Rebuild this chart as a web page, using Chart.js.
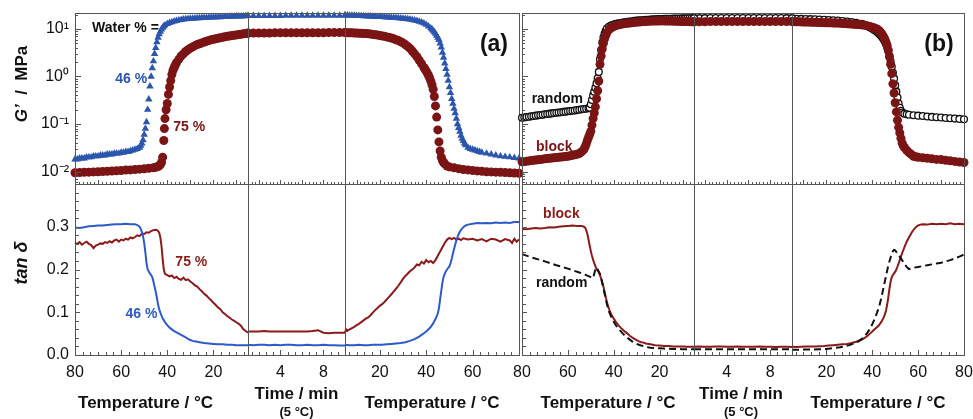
<!DOCTYPE html>
<html>
<head>
<meta charset="utf-8">
<script src="https://cdn.jsdelivr.net/npm/chart.js@4.4.1/dist/chart.umd.min.js"></script>
<style>
  html, body { margin: 0; padding: 0; background: #fff; }
  #wrap { position: relative; width: 973px; height: 419px; overflow: hidden; }
  #wrap canvas { position: absolute; top: 0; }
</style>
</head>
<body>
<div id="wrap">
  <canvas id="panelA" width="550" height="419" style="left:0"></canvas>
  <canvas id="panelB" width="540" height="419" style="left:450px"></canvas>
</div>
<script>
// ---- axis ticks / labels ----
const coolTicks = [80, 60, 40, 20];
const timeTicks = [4, 8];
const heatTicksA = [20, 40, 60];
const heatTicksB = [20, 40, 60, 80];
const gTicks = [0.01, 0.1, 1, 10];
const gLabels = ['10\u207B\u00B2', '10\u207B\u00B9', '10\u2070', '10\u00B9'];
const dTicks = [0, 0.1, 0.2, 0.3];
const dLabels = ['0.0', '0.1', '0.2', '0.3'];

// isothermal hold at 5 °C, minutes
const timeMin = [1, 1.5, 2, 2.5, 3, 3.5, 4, 4.5, 5, 5.5, 6, 6.5, 7, 7.5, 8, 8.5, 9, 9.5, 10];

// ---- (a) G' [T, MPa] ----
const aG46Cool = [[80,0.018],[79,0.018],[78,0.019],[77,0.019],[76,0.019],[75,0.020],[74,0.020],[73,0.020],[72,0.021],[71,0.021],[70,0.021],[69,0.022],[68,0.022],[67,0.022],[66,0.023],[65,0.023],[64,0.023],[63,0.024],[62,0.024],[61,0.024],[60,0.025],[59,0.025],[58,0.026],[57,0.026],[56,0.027],[55,0.028],[54,0.029],[53,0.030],[52,0.032],[51.5,0.035],[51,0.039],[50.5,0.046],[50,0.06],[49.5,0.08],[49,0.11],[48.5,0.2],[48,0.33],[47.5,0.62],[47,1.0],[46.5,1.5],[46,2.1],[45.5,3.0],[45,4.0],[44.5,5.3],[44,6.6],[43.5,7.8],[43,8.8],[42.5,9.8],[42,10.7],[41.5,11.4],[41,12.0],[40,12.9],[39,13.5],[38,14.0],[37,14.5],[36,14.9],[35,15.3],[34,15.6],[33,15.9],[32,16.1],[31,16.3],[30,16.5],[29,16.6],[28,16.8],[27,16.9],[26,17.0],[25,17.1],[24,17.2],[23,17.3],[22,17.4],[21,17.5],[20,17.6],[19,17.7],[18,17.7],[17,17.8],[16,17.9],[15,18.0],[14,18.1],[13,18.2],[12,18.3],[11,18.3],[10,18.4],[9,18.5],[8,18.5],[7,18.6],[6,18.7],[5,18.8]];
const aG75Cool = [[80,0.0094],[78,0.0095],[76,0.0096],[74,0.0097],[72,0.0098],[70,0.0099],[68,0.01],[66,0.0101],[64,0.0102],[62,0.0104],[60,0.0105],[58,0.0107],[56,0.0108],[54,0.011],[52,0.0112],[50,0.0114],[48,0.0117],[46,0.012],[45,0.0123],[44,0.0127],[43.5,0.0132],[43,0.014],[42.5,0.0155],[42,0.02],[41.5,0.045],[41.25,0.08],[41,0.13],[40.5,0.2],[40,0.27],[39.5,0.42],[39,0.6],[38.5,0.82],[38,1.1],[37.5,1.35],[37,1.55],[36.5,1.75],[36,1.95],[35,2.3],[34,2.7],[33,3.0],[32,3.35],[31,3.65],[30,3.95],[29,4.2],[28,4.45],[27,4.7],[26,4.9],[25,5.1],[24,5.3],[23,5.5],[22,5.7],[21,5.9],[20,6.05],[19,6.2],[18,6.4],[17,6.55],[16,6.7],[15,6.85],[14,7.0],[13,7.1],[12,7.25],[11,7.4],[10,7.5],[9,7.65],[8,7.75],[7,7.9],[6,8.0],[5,8.1]];
const aG46Time = [18.9,18.9,19,19,19,19,19,19.1,19.1,19.1,19.1,19.1,19.2,19.2,19.2,19.2,19.2,19.2,19.3];
const aG75Time = [8.2,8.2,8.2,8.2,8.2,8.3,8.3,8.3,8.3,8.3,8.3,8.3,8.3,8.3,8.3,8.4,8.4,8.4,8.4];
const aG46Heat = [[5,19.3],[6,19.3],[7,19.2],[8,19.2],[9,19.1],[10,19.0],[11,18.9],[12,18.8],[13,18.7],[14,18.6],[15,18.5],[16,18.4],[17,18.3],[18,18.2],[19,18.1],[20,18.0],[21,17.9],[22,17.8],[23,17.6],[24,17.5],[25,17.4],[26,17.2],[27,17.1],[28,16.9],[29,16.8],[30,16.6],[31,16.4],[32,16.2],[33,15.9],[34,15.6],[35,15.2],[36,14.8],[37,14.3],[38,13.8],[39,13.1],[40,12.3],[41,11.4],[42,10.4],[42.5,9.8],[43,9.2],[43.5,8.6],[44,8.0],[44.5,7.3],[45,6.6],[45.5,5.9],[46,5.0],[46.5,4.1],[47,3.2],[47.5,2.5],[48,1.9],[48.5,1.45],[49,1.1],[49.5,0.82],[50,0.6],[50.5,0.45],[51,0.34],[51.5,0.27],[52,0.21],[52.5,0.17],[53,0.13],[53.5,0.1],[54,0.083],[54.5,0.069],[55,0.057],[55.5,0.049],[56,0.044],[56.5,0.039],[57,0.036],[58,0.032],[59,0.03],[60,0.029],[61,0.028],[62,0.027],[63,0.026],[64,0.025],[66,0.024],[68,0.023],[70,0.022],[72,0.021],[74,0.0205],[76,0.02],[78,0.0195],[80,0.019]];
const aG75Heat = [[5,8.4],[6,8.35],[7,8.3],[8,8.3],[9,8.25],[10,8.2],[11,8.15],[12,8.1],[13,8.05],[14,8.0],[15,7.9],[16,7.8],[17,7.7],[18,7.6],[19,7.45],[20,7.3],[21,7.15],[22,7.0],[23,6.8],[24,6.65],[25,6.45],[26,6.2],[27,5.95],[28,5.7],[29,5.4],[30,5.1],[31,4.7],[32,4.3],[33,3.9],[34,3.45],[35,3.0],[36,2.6],[37,2.2],[38,1.85],[39,1.55],[39.5,1.42],[40,1.3],[40.5,1.17],[41,1.05],[41.5,0.93],[42,0.8],[42.5,0.67],[43,0.54],[43.5,0.38],[44,0.24],[44.5,0.14],[45,0.075],[45.5,0.042],[46,0.027],[46.5,0.02],[47,0.017],[47.5,0.0155],[48,0.0145],[49,0.013],[50,0.0125],[52,0.012],[54,0.0115],[56,0.011],[58,0.0108],[60,0.0105],[62,0.0103],[64,0.0101],[66,0.0099],[68,0.0098],[70,0.0097],[72,0.0096],[74,0.0095],[76,0.0094],[78,0.0093],[80,0.0092]];

// ---- (a) tan delta [T, tan d] ----
const aD46Cool = [[80,0.298],[78,0.297],[76,0.299],[74,0.301],[72,0.302],[70,0.303],[68,0.303],[66,0.304],[64,0.305],[62,0.306],[60,0.306],[58,0.307],[56,0.306],[54,0.306],[53,0.304],[52,0.3],[51.5,0.295],[51,0.288],[50.5,0.278],[50,0.262],[49.5,0.24],[49,0.215],[48.5,0.2],[48,0.195],[47.5,0.19],[47,0.187],[46.5,0.182],[46,0.172],[45.5,0.16],[45,0.148],[44.5,0.134],[44,0.118],[43.5,0.107],[43,0.099],[42.5,0.092],[42,0.086],[41,0.077],[40,0.07],[39,0.064],[38,0.06],[37,0.056],[36,0.053],[35,0.05],[34,0.047],[33,0.044],[32,0.041],[31,0.038],[30,0.035],[29,0.033],[28,0.032],[27,0.031],[26,0.03],[24,0.028],[22,0.027],[20,0.026],[18,0.025],[16,0.025],[14,0.024],[12,0.024],[10,0.023],[8,0.023],[6,0.023],[5,0.023]];
const aD75Cool = [[80,0.262],[79,0.26],[78,0.264],[77,0.258],[76,0.262],[75,0.265],[74,0.26],[73,0.257],[72,0.25],[71,0.256],[70,0.258],[69,0.261],[68,0.26],[67,0.264],[66,0.262],[65,0.266],[64,0.263],[63,0.268],[62,0.27],[61,0.265],[60,0.27],[59,0.268],[58,0.272],[57,0.27],[56,0.275],[55,0.273],[54,0.276],[53,0.28],[52,0.278],[51,0.284],[50,0.283],[49,0.287],[48,0.286],[47,0.29],[46,0.292],[45,0.293],[44.5,0.292],[44,0.29],[43.5,0.286],[43,0.275],[42.5,0.255],[42,0.225],[41.5,0.2],[41,0.19],[40,0.187],[39,0.184],[38,0.186],[37,0.18],[36,0.183],[35,0.178],[34,0.176],[33,0.181],[32,0.175],[31,0.177],[30,0.172],[29,0.168],[28,0.163],[27,0.16],[26,0.154],[25,0.149],[24,0.143],[23,0.139],[22,0.133],[21,0.128],[20,0.122],[19,0.117],[18,0.111],[17,0.107],[16,0.1],[15,0.096],[14,0.091],[13,0.087],[12,0.083],[11,0.08],[10,0.076],[9,0.073],[8,0.068],[7,0.06],[6,0.056],[5,0.052]];
const aD46Time = [0.024,0.023,0.024,0.024,0.023,0.024,0.023,0.024,0.024,0.023,0.023,0.024,0.023,0.023,0.024,0.023,0.023,0.022,0.022];
const aD75Time = [0.055,0.055,0.055,0.056,0.055,0.055,0.055,0.055,0.055,0.055,0.055,0.055,0.056,0.058,0.052,0.051,0.052,0.052,0.052];
const aD46Heat = [[5,0.024],[7,0.023],[9,0.023],[11,0.024],[13,0.023],[15,0.023],[17,0.024],[19,0.024],[21,0.024],[23,0.025],[25,0.026],[27,0.027],[29,0.028],[31,0.03],[33,0.033],[35,0.037],[36,0.04],[37,0.043],[38,0.047],[39,0.051],[40,0.055],[41,0.06],[42,0.066],[43,0.074],[44,0.084],[45,0.097],[45.5,0.11],[46,0.13],[46.5,0.15],[47,0.17],[47.5,0.183],[48,0.19],[48.5,0.196],[49,0.2],[49.5,0.204],[50,0.207],[50.5,0.215],[51,0.225],[51.5,0.237],[52,0.248],[52.5,0.258],[53,0.268],[53.5,0.276],[54,0.283],[55,0.293],[56,0.299],[57,0.303],[58,0.305],[60,0.307],[62,0.309],[64,0.308],[66,0.309],[68,0.308],[70,0.31],[72,0.309],[74,0.31],[76,0.309],[78,0.311],[80,0.311]];
const aD75Heat = [[5,0.053],[5.5,0.06],[6,0.057],[7,0.06],[8,0.063],[9,0.066],[10,0.07],[11,0.073],[12,0.077],[13,0.081],[14,0.085],[15,0.088],[16,0.093],[17,0.099],[18,0.105],[19,0.11],[20,0.115],[21,0.119],[22,0.124],[23,0.13],[24,0.136],[25,0.142],[26,0.149],[27,0.155],[28,0.162],[29,0.17],[30,0.178],[31,0.185],[32,0.19],[33,0.196],[34,0.2],[35,0.205],[36,0.212],[37,0.21],[38,0.218],[39,0.214],[40,0.222],[41,0.217],[42,0.22],[43,0.215],[44,0.222],[45,0.232],[46,0.242],[47,0.252],[48,0.262],[49,0.27],[50,0.274],[51,0.271],[52,0.274],[53,0.27],[54,0.272],[55,0.269],[56,0.273],[58,0.27],[60,0.272],[62,0.268],[64,0.271],[66,0.266],[68,0.272],[70,0.27],[72,0.265],[74,0.271],[76,0.268],[77,0.262],[78,0.272],[79,0.265],[80,0.27]];

// ---- (b) G' [T, MPa] ----
const bGRanCool = [[80,0.135],[79,0.137],[78,0.14],[77,0.142],[76,0.145],[75,0.147],[74,0.15],[73,0.152],[72,0.155],[71,0.157],[70,0.16],[69,0.162],[68,0.165],[67,0.167],[66,0.17],[65,0.172],[64,0.175],[63,0.177],[62,0.18],[61,0.182],[60,0.185],[59,0.187],[58,0.19],[57,0.193],[56,0.196],[55,0.2],[54,0.204],[53,0.207],[52,0.21],[51,0.215],[50.5,0.22],[50,0.26],[49.5,0.32],[49,0.4],[48.5,0.48],[48,0.58],[47.5,0.72],[47,0.92],[46.5,1.25],[46,2.3],[45.5,3.6],[45,5.2],[44.5,6.6],[44,7.9],[43.5,9.1],[43,10.2],[42,11.2],[41,11.9],[40,12.4],[39,12.8],[38,13.1],[37,13.4],[36,13.7],[35,14],[34,14.2],[33,14.4],[32,14.6],[31,14.8],[30,15],[29,15.15],[28,15.3],[27,15.45],[26,15.6],[25,15.7],[24,15.8],[23,15.9],[22,16],[21,16.1],[20,16.2],[19,16.25],[18,16.3],[17,16.35],[16,16.4],[15,16.45],[14,16.5],[13,16.55],[12,16.6],[11,16.65],[10,16.7],[9,16.7],[8,16.8],[7,16.8],[6,16.8],[5,16.9]];
const bGBlkCool = [[80,0.016],[79,0.0162],[78,0.0165],[77,0.0167],[76,0.017],[75,0.0172],[74,0.0175],[73,0.0177],[72,0.018],[71,0.0182],[70,0.0185],[69,0.0187],[68,0.019],[67,0.0192],[66,0.0195],[65,0.0197],[64,0.02],[63,0.0202],[62,0.0205],[61,0.0207],[60,0.021],[59,0.0215],[58,0.022],[57,0.0225],[56,0.023],[55,0.024],[54,0.026],[53,0.029],[52.5,0.033],[52,0.038],[51.5,0.045],[51,0.052],[50.5,0.06],[50,0.07],[49.5,0.095],[49,0.13],[48.5,0.17],[48,0.23],[47.5,0.34],[47,0.5],[46.5,0.8],[46,1.8],[45.5,2.7],[45,3.8],[44.5,5.0],[44,6.2],[43.5,7.3],[43,8.3],[42,9.7],[41,10.6],[40,11.3],[39,11.8],[38,12.2],[37,12.5],[36,12.8],[35,13],[34,13.2],[33,13.4],[32,13.6],[31,13.75],[30,13.9],[29,14.05],[28,14.2],[27,14.3],[26,14.4],[25,14.5],[24,14.6],[23,14.65],[22,14.7],[21,14.75],[20,14.8],[19,14.8],[18,14.8],[17,14.75],[16,14.7],[15,14.65],[14,14.6],[13,14.55],[12,14.5],[11,14.45],[10,14.4],[9,14.35],[8,14.3],[7,14.25],[6,14.2],[5,14.2]];
const bGRanTime = [16.9,16.9,16.9,17,17,17,17,17,17,17,17,17,17,17,17,17,17,16.9,16.9];
const bGBlkTime = [14.2,14.2,14.2,14.3,14.3,14.3,14.3,14.3,14.3,14.3,14.3,14.3,14.3,14.3,14.3,14.3,14.3,14.3,14.3];
const bGRanHeat = [[5,16.5],[7,16.4],[9,16.3],[11,16.2],[13,16.1],[15,16.0],[17,15.8],[19,15.6],[21,15.4],[23,15.2],[25,15.0],[27,14.7],[29,14.4],[31,14.0],[33,13.5],[35,12.9],[36,12.5],[37,12.0],[38,11.4],[39,10.8],[40,10.1],[41,9.4],[42,8.7],[42.5,8.3],[43,7.9],[43.5,7.5],[44,7.0],[44.5,6.5],[45,6.0],[45.5,5.4],[46,4.8],[46.5,4.1],[47,3.4],[47.5,2.7],[48,2.1],[48.5,1.6],[49,1.2],[49.5,0.9],[50,0.65],[50.5,0.48],[51,0.36],[51.5,0.27],[52,0.22],[52.5,0.19],[53,0.175],[54,0.165],[55,0.16],[56,0.157],[58,0.153],[60,0.15],[62,0.147],[64,0.144],[66,0.141],[68,0.139],[70,0.137],[72,0.134],[74,0.132],[76,0.13],[78,0.128],[80,0.126]];
const bGBlkHeat = [[5,14.3],[6,14.25],[7,14.2],[8,14.15],[9,14.1],[10,14.05],[11,14.0],[12,13.95],[13,13.9],[14,13.85],[15,13.8],[16,13.75],[17,13.7],[18,13.65],[19,13.6],[20,13.55],[21,13.5],[22,13.45],[23,13.4],[24,13.35],[25,13.3],[26,13.2],[27,13.1],[28,13.0],[29,12.9],[30,12.8],[31,12.7],[32,12.6],[33,12.5],[34,12.4],[35,12.3],[36,12.1],[37,11.9],[38,11.6],[39,11.3],[40,10.9],[41,10.5],[42,10.0],[42.5,9.6],[43,9.2],[43.5,8.7],[44,8.1],[44.5,7.5],[45,6.8],[45.5,6.1],[46,5.3],[46.5,4.5],[47,3.6],[47.5,2.6],[48,1.8],[48.5,1.15],[49,0.7],[49.5,0.45],[50,0.28],[50.5,0.18],[51,0.12],[51.5,0.085],[52,0.065],[52.5,0.05],[53,0.04],[53.5,0.035],[54,0.032],[55,0.028],[56,0.025],[57,0.023],[58,0.021],[59,0.0205],[60,0.02],[62,0.0195],[64,0.019],[66,0.0185],[68,0.018],[70,0.0178],[72,0.0172],[74,0.0168],[76,0.0163],[78,0.0159],[80,0.0155]];

// ---- (b) tan delta [T, tan d] ----
const bDBlkCool = [[80,0.295],[78,0.294],[76,0.296],[74,0.297],[72,0.296],[70,0.297],[68,0.299],[66,0.298],[64,0.3],[62,0.301],[60,0.302],[58,0.303],[56,0.302],[54,0.302],[53,0.3],[52.5,0.298],[52,0.292],[51.5,0.283],[51,0.27],[50.5,0.256],[50,0.243],[49.5,0.232],[49,0.223],[48.5,0.215],[48,0.208],[47.5,0.201],[47,0.197],[46.5,0.193],[46,0.187],[45.5,0.179],[45,0.17],[44.5,0.16],[44,0.148],[43.5,0.136],[43,0.124],[42.5,0.115],[42,0.107],[41,0.094],[40,0.085],[39,0.077],[38,0.07],[37,0.064],[36,0.059],[35,0.054],[34,0.05],[33,0.045],[32,0.041],[31,0.038],[30,0.035],[29,0.032],[28,0.03],[27,0.029],[26,0.027],[24,0.025],[22,0.023],[20,0.022],[18,0.021],[16,0.021],[14,0.02],[12,0.02],[10,0.02],[8,0.0195],[6,0.0195],[5,0.0195]];
const bDRanCool = [[80,0.236],[75,0.227],[70,0.219],[65,0.21],[60,0.202],[55,0.193],[52,0.187],[50,0.182],[49,0.18],[48.5,0.19],[48,0.2],[47.5,0.205],[47,0.2],[46.5,0.195],[46,0.19],[45.5,0.18],[45,0.168],[44.5,0.156],[44,0.144],[43.5,0.132],[43,0.12],[42.5,0.11],[42,0.101],[41,0.088],[40,0.078],[39,0.069],[38,0.062],[37,0.056],[36,0.05],[35,0.045],[34,0.04],[33,0.036],[32,0.032],[31,0.029],[30,0.026],[29,0.024],[28,0.022],[27,0.021],[26,0.019],[24,0.017],[22,0.016],[20,0.0155],[18,0.015],[16,0.0145],[14,0.014],[12,0.014],[10,0.0135],[8,0.0135],[6,0.0134],[5,0.0134]];
const bDBlkTime = [0.0195,0.02,0.0195,0.0195,0.02,0.02,0.0195,0.0195,0.02,0.0195,0.0195,0.0195,0.02,0.0195,0.0195,0.019,0.0195,0.0195,0.019];
const bDRanTime = [0.0134,0.0134,0.0134,0.0134,0.0134,0.0134,0.0134,0.0134,0.0134,0.0134,0.0134,0.0134,0.0134,0.0134,0.0134,0.0134,0.0134,0.0134,0.0134];
const bDBlkHeat = [[5,0.0195],[7,0.019],[9,0.0195],[11,0.02],[13,0.02],[15,0.02],[17,0.0205],[19,0.021],[21,0.022],[23,0.023],[25,0.024],[27,0.025],[29,0.026],[31,0.028],[33,0.031],[35,0.035],[36,0.038],[37,0.041],[38,0.045],[39,0.05],[40,0.055],[41,0.06],[42,0.065],[43,0.07],[44,0.078],[45,0.088],[45.5,0.095],[46,0.104],[46.5,0.118],[47,0.135],[47.5,0.155],[48,0.172],[48.5,0.182],[49,0.187],[49.5,0.191],[50,0.195],[50.5,0.2],[51,0.207],[52,0.222],[53,0.238],[54,0.252],[55,0.265],[56,0.275],[57,0.285],[58,0.293],[59,0.299],[60,0.303],[61,0.305],[62,0.306],[64,0.305],[66,0.307],[68,0.306],[70,0.307],[72,0.306],[74,0.308],[76,0.306],[78,0.307],[80,0.306]];
const bDRanHeat = [[5,0.0125],[8,0.0125],[11,0.013],[14,0.013],[17,0.0134],[20,0.014],[23,0.016],[26,0.018],[28,0.02],[30,0.023],[32,0.027],[34,0.032],[35,0.036],[36,0.04],[37,0.046],[38,0.053],[39,0.062],[40,0.072],[41,0.084],[42,0.098],[43,0.113],[44,0.135],[45,0.16],[46,0.185],[47,0.21],[48,0.228],[48.5,0.237],[49,0.243],[49.5,0.246],[50,0.245],[50.5,0.241],[51,0.237],[52,0.23],[53,0.222],[54,0.214],[55,0.206],[56,0.201],[57,0.202],[58,0.204],[60,0.206],[62,0.208],[64,0.21],[66,0.212],[68,0.214],[70,0.216],[72,0.219],[74,0.222],[76,0.226],[78,0.23],[80,0.235]];

const FONT = "'Liberation Sans', Arial, sans-serif";
const BLUE = '#2c56ad';
const RED = '#7b1414';
const BLUE_LINE = '#2d5ac6';
const RED_LINE = '#8b1a1a';
const INK = '#111';

const pairs = arr => arr.map(([x, y]) => ({x, y}));
const series = (xs, ys) => xs.map((x, i) => ({x, y: ys[i]}));

function markers(data, xAxisID, color, shape, order) {
  return {
    data, xAxisID, yAxisID: 'yG', order, clip: false,
    pointStyle: shape, pointRadius: shape === 'triangle' ? 4.3 : 4.5,
    pointBackgroundColor: color, pointBorderColor: color, pointBorderWidth: 0,
    showLine: false
  };
}
function openMarkers(data, xAxisID, order) {
  return {
    data, xAxisID, yAxisID: 'yG', order, clip: false,
    pointStyle: 'circle', pointRadius: 3.4,
    pointBackgroundColor: '#fff', pointBorderColor: INK, pointBorderWidth: 1.3,
    showLine: false
  };
}
function trace(data, xAxisID, color, dashed, order) {
  return {
    data, xAxisID, yAxisID: 'yD', order, clip: false,
    showLine: true, pointRadius: 0, borderWidth: 2, borderColor: color,
    borderDash: dashed ? [7, 4] : [], tension: 0
  };
}

// keep label overhang from pushing the plot area around
function noPad(s) {
  s.paddingTop = 0; s.paddingBottom = 0; s.paddingLeft = 0; s.paddingRight = 0;
}

function xScale(min, max, reverse, weight, pos, ticks) {
  return {
    type: 'linear', position: 'bottom', stack: 'x', stackWeight: weight, weight: pos,
    min, max, reverse,
    grid: {display: false, drawTicks: false}, border: {display: false},
    afterBuildTicks: s => { s.ticks = ticks.map(v => ({value: v})); },
    afterFit: s => { s.height = 64; noPad(s); },
    ticks: {padding: 8, color: INK, font: {family: FONT, size: 16}, maxRotation: 0, autoSkip: false}
  };
}
function yScales(width, showLabels) {
  const tickOpts = {display: showLabels, padding: 6, color: INK, font: {family: FONT, size: 16}, autoSkip: false};
  return {
    yG: {
      type: 'logarithmic', position: 'left', stack: 'y', stackWeight: 1, weight: 2,
      min: 0.00546, max: 21.7,
      grid: {display: false, drawTicks: false}, border: {display: false},
      afterBuildTicks: s => { s.ticks = gTicks.map(v => ({value: v})); },
      afterFit: s => { s.width = width; noPad(s); },
      ticks: Object.assign({callback: (v, i) => gLabels[i]}, tickOpts)
    },
    yD: {
      type: 'linear', position: 'left', stack: 'y', stackWeight: 1, weight: 1,
      min: 0, max: 0.4,
      grid: {display: false, drawTicks: false}, border: {display: false},
      afterBuildTicks: s => { s.ticks = dTicks.map(v => ({value: v})); },
      afterFit: s => { s.width = width; noPad(s); },
      ticks: Object.assign({callback: (v, i) => dLabels[i]}, tickOpts)
    }
  };
}

// frame, inward tick marks, axis titles and in-plot labels
const framePlugin = {
  id: 'frame',
  afterDraw(chart, args, opts) {
    const ctx = chart.ctx;
    const s = chart.scales;
    const L = s.xC.left, R = s.xH.right, T = s.yG.top, M = s.yG.bottom, B = s.yD.bottom;
    const px = v => Math.round(v) + 0.5;
    const line = (x1, y1, x2, y2) => { ctx.beginPath(); ctx.moveTo(x1, y1); ctx.lineTo(x2, y2); ctx.stroke(); };
    ctx.save();
    ctx.strokeStyle = '#555';
    ctx.lineWidth = 1;
    ctx.strokeRect(px(L), px(T), Math.round(R - L), Math.round(B - T));
    line(L, px(M), R, px(M));
    [s.xT.left, s.xT.right].forEach(x => line(px(x), T, px(x), B));

    // x tick marks: [scale, major step top row, major step bottom row]
    [['xC', 10, 20], ['xT', 2, 4], ['xH', 10, 20]].forEach(([id, topMajor, botMajor]) => {
      const sc = s[id];
      [[M, topMajor, 4, 2], [B, botMajor, 5, 3]].forEach(([y0, major, lenMaj, lenMin]) => {
        const step = major / 6;
        for (let k = Math.ceil(sc.min / step - 1e-6); k * step <= sc.max + 1e-6; k++) {
          const x = px(sc.getPixelForValue(k * step));
          if (x <= px(sc.left) || x >= px(sc.right)) continue;
          line(x, y0, x, y0 - (k % 6 === 0 ? lenMaj : lenMin));
        }
      });
    });
    // y tick marks, log decades with minor ticks
    for (let e = -3; e <= 1; e++) {
      for (let k = 1; k <= 9; k++) {
        const v = k * Math.pow(10, e);
        if (v <= s.yG.min || v >= s.yG.max) continue;
        const y = px(s.yG.getPixelForValue(v));
        line(L, y, L + (k === 1 ? 6 : 3), y);
      }
    }
    for (let k = 1; k < 20; k++) {
      const y = px(s.yD.getPixelForValue(k * 0.02));
      line(L, y, L + (k % 5 === 0 ? 5 : 4), y);
    }

    ctx.textBaseline = 'middle';
    // x axis titles
    (opts.xTitles || []).forEach(t => {
      const sc = s[t.scale];
      ctx.font = `bold ${t.size}px ${FONT}`;
      ctx.fillStyle = INK;
      ctx.textAlign = 'center';
      ctx.fillText(t.text, (sc.left + sc.right) / 2 + (t.dx || 0), t.y);
    });
    // y axis titles (rotated)
    (opts.yTitles || []).forEach(t => {
      ctx.save();
      ctx.translate(t.x, t.y);
      ctx.rotate(-Math.PI / 2);
      ctx.fillStyle = INK;
      const parts = t.parts;
      let total = 0;
      parts.forEach(p => { ctx.font = `${p.italic ? 'italic ' : ''}bold ${t.size}px ${FONT}`; total += ctx.measureText(p.text).width; });
      let cx = -total / 2;
      ctx.textAlign = 'left';
      parts.forEach(p => {
        ctx.font = `${p.italic ? 'italic ' : ''}bold ${t.size}px ${FONT}`;
        ctx.fillText(p.text, cx, 0);
        cx += ctx.measureText(p.text).width;
      });
      ctx.restore();
    });
    // labels placed in data coordinates
    (opts.notes || []).forEach(n => {
      ctx.font = `bold ${n.size || 14}px ${FONT}`;
      ctx.fillStyle = n.color || INK;
      ctx.textAlign = n.align || 'left';
      ctx.fillText(n.text, s[n.xs].getPixelForValue(n.x), s[n.ys].getPixelForValue(n.y));
    });
    ctx.restore();
  }
};

function baseOptions(padRight, width, showY, heatTicks, timeW, sideW, frame) {
  return {
    responsive: false,
    animation: false,
    devicePixelRatio: 1,
    events: [],
    layout: {padding: {top: 13, right: padRight, left: 0, bottom: 0}},
    plugins: {legend: {display: false}, tooltip: {enabled: false}, frame},
    scales: Object.assign({
      xC: xScale(5, 80, true, sideW[0], 1, coolTicks),
      xT: xScale(1, 10, false, timeW, 2, timeTicks),
      xH: xScale(5, 80, false, sideW[1], 3, heatTicks)
    }, yScales(width, showY))
  };
}

const tempTitle = 'Temperature / \u00B0C';

new Chart(document.getElementById('panelA'), {
  type: 'scatter',
  data: {
    datasets: [
      markers(pairs(aG46Cool), 'xC', BLUE, 'triangle', 2),
      markers(pairs(aG75Cool), 'xC', RED, 'circle', 1),
      markers(series(timeMin, aG46Time), 'xT', BLUE, 'triangle', 2),
      markers(series(timeMin, aG75Time), 'xT', RED, 'circle', 1),
      markers(pairs(aG46Heat), 'xH', BLUE, 'triangle', 2),
      markers(pairs(aG75Heat), 'xH', RED, 'circle', 1),
      trace(pairs(aD75Cool), 'xC', RED_LINE, false, 2),
      trace(pairs(aD46Cool), 'xC', BLUE_LINE, false, 1),
      trace(series(timeMin, aD75Time), 'xT', RED_LINE, false, 2),
      trace(series(timeMin, aD46Time), 'xT', BLUE_LINE, false, 1),
      trace(pairs(aD75Heat), 'xH', RED_LINE, false, 2),
      trace(pairs(aD46Heat), 'xH', BLUE_LINE, false, 1)
    ]
  },
  options: baseOptions(31, 75, true, heatTicksA, 97, [173, 174], {
    xTitles: [
      {scale: 'xC', text: tempTitle, y: 403, size: 17, dx: -16},
      {scale: 'xT', text: 'Time / min', y: 394, size: 17},
      {scale: 'xT', text: '(5 \u00B0C)', y: 412, size: 13},
      {scale: 'xH', text: tempTitle, y: 403, size: 17}
    ],
    yTitles: [
      {x: 22, y: 84, size: 17, parts: [{text: 'G\u2019', italic: true}, {text: '  /  MPa'}]},
      {x: 22, y: 263, size: 18, parts: [{text: 'tan \u03B4', italic: true}]}
    ],
    notes: [
      {text: 'Water % =', xs: 'xC', ys: 'yG', x: 72.6, y: 10.5},
      {text: '46 %', xs: 'xC', ys: 'yG', x: 48.7, y: 0.886, color: BLUE, align: 'right'},
      {text: '75 %', xs: 'xC', ys: 'yG', x: 37.4, y: 0.0865, color: RED},
      {text: '(a)', xs: 'xH', ys: 'yG', x: 69.2, y: 4.6, size: 23, align: 'center'},
      {text: '75 %', xs: 'xC', ys: 'yD', x: 36.5, y: 0.217, color: RED_LINE},
      {text: '46 %', xs: 'xC', ys: 'yD', x: 44.3, y: 0.0955, color: BLUE_LINE, align: 'right'}
    ]
  }),
  plugins: [framePlugin]
});

new Chart(document.getElementById('panelB'), {
  type: 'scatter',
  data: {
    datasets: [
      openMarkers(pairs(bGRanCool), 'xC', 2),
      markers(pairs(bGBlkCool), 'xC', RED, 'circle', 1),
      openMarkers(series(timeMin, bGRanTime), 'xT', 2),
      markers(series(timeMin, bGBlkTime), 'xT', RED, 'circle', 1),
      openMarkers(pairs(bGRanHeat), 'xH', 2),
      markers(pairs(bGBlkHeat), 'xH', RED, 'circle', 1),
      trace(pairs(bDRanCool), 'xC', INK, true, 1),
      trace(pairs(bDBlkCool), 'xC', RED_LINE, false, 2),
      trace(series(timeMin, bDRanTime), 'xT', INK, true, 1),
      trace(series(timeMin, bDBlkTime), 'xT', RED_LINE, false, 2),
      trace(pairs(bDRanHeat), 'xH', INK, true, 1),
      trace(pairs(bDBlkHeat), 'xH', RED_LINE, false, 2)
    ]
  },
  options: baseOptions(26, 72, false, heatTicksB, 98, [172, 172], {
    xTitles: [
      {scale: 'xC', text: tempTitle, y: 403, size: 17},
      {scale: 'xT', text: 'Time / min', y: 394, size: 17, dx: -2},
      {scale: 'xT', text: '(5 \u00B0C)', y: 412, size: 13, dx: -2},
      {scale: 'xH', text: tempTitle, y: 403, size: 17}
    ],
    notes: [
      {text: 'random', xs: 'xC', ys: 'yG', x: 75.8, y: 0.336},
      {text: 'block', xs: 'xC', ys: 'yG', x: 73.9, y: 0.0333, color: RED},
      {text: '(b)', xs: 'xH', ys: 'yG', x: 69.1, y: 4.6, size: 23, align: 'center'},
      {text: 'block', xs: 'xC', ys: 'yD', x: 70.8, y: 0.329, color: RED_LINE},
      {text: 'random', xs: 'xC', ys: 'yD', x: 73.9, y: 0.168}
    ]
  }),
  plugins: [framePlugin]
});
</script>
</body>
</html>
